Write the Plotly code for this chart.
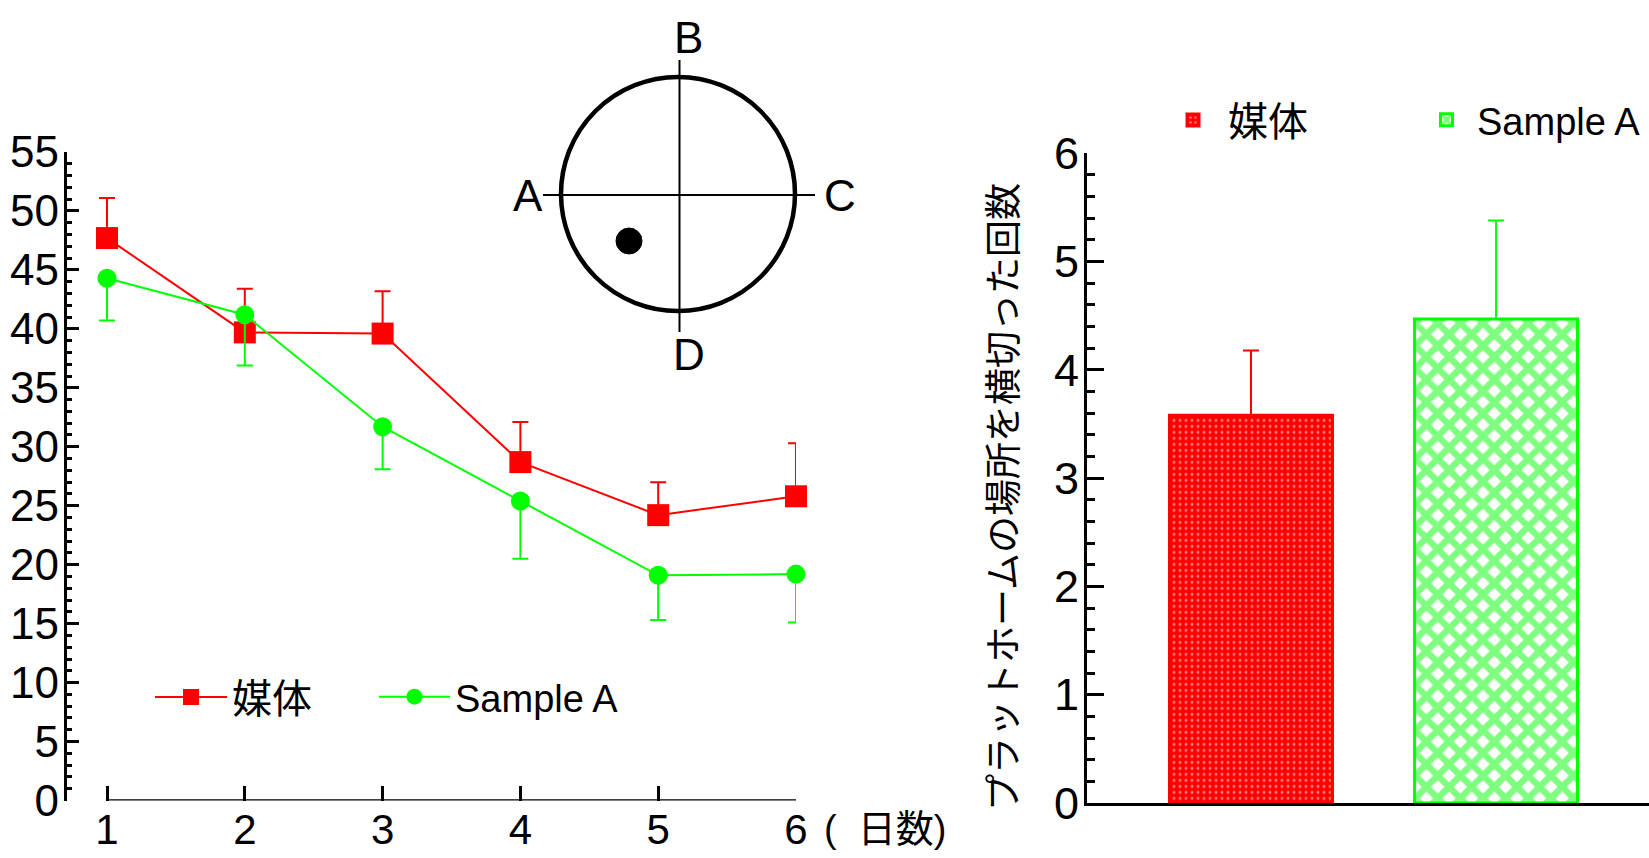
import plotly.graph_objects as go

# ---------------- data ----------------
days = [1, 2, 3, 4, 5, 6]
day_labels = ["1", "2", "3", "4", "5", "6"]
vehicle_mean = [47.7, 39.7, 39.6, 28.7, 24.2, 25.8]
vehicle_sd = [3.4, 3.7, 3.6, 3.4, 2.8, 4.5]
sampleA_mean = [44.3, 41.2, 31.7, 25.4, 19.1, 19.2]
sampleA_sd = [3.6, 4.3, 3.6, 4.9, 3.8, 4.1]

groups = ["媒体", "Sample A"]
crossings_mean = [3.58, 4.47]
crossings_sd = [0.60, 0.91]

left_yticks = list(range(0, 56, 5))
right_yticks = list(range(0, 7))

RED = "#ff0000"
GREEN = "#00ff00"
LAT = "Liberation Sans, Arial, sans-serif"
MIX = "Liberation Sans, Noto Sans CJK JP, sans-serif"
CJK = "Noto Sans CJK JP, Liberation Sans, sans-serif"

W, H = 1649, 858


def px(x):
    return x / W


def py(y):
    return 1 - y / H


fig = go.Figure()

# ---------------- left: line chart ----------------
fig.add_trace(go.Scatter(
    x=days, y=vehicle_mean, name=groups[0], mode="lines+markers",
    line=dict(color=RED, width=2),
    marker=dict(symbol="square", size=22, color=RED),
    error_y=dict(type="data", symmetric=False, array=vehicle_sd,
                 arrayminus=[0] * len(days), color=RED, thickness=2, width=8),
    cliponaxis=False, xaxis="x", yaxis="y", legend="legend",
))
fig.add_trace(go.Scatter(
    x=days, y=sampleA_mean, name=groups[1], mode="lines+markers",
    line=dict(color=GREEN, width=2),
    marker=dict(symbol="circle", size=19, color=GREEN),
    error_y=dict(type="data", symmetric=False, array=[0] * len(days),
                 arrayminus=sampleA_sd, color=GREEN, thickness=2, width=8),
    cliponaxis=False, xaxis="x", yaxis="y", legend="legend2",
))

# ---------------- right: bar chart ----------------
fig.add_trace(go.Bar(
    x=[groups[0]], y=[crossings_mean[0]], name=groups[0], width=0.665,
    marker=dict(color=RED, line=dict(color=RED, width=3),
                pattern=dict(shape=".", fgcolor="white", bgcolor=RED,
                             size=6, solidity=0.2)),
    error_y=dict(type="data", symmetric=False, array=[crossings_sd[0]],
                 arrayminus=[0], color=RED, thickness=2, width=8),
    xaxis="x2", yaxis="y2", legend="legend3",
))
fig.add_trace(go.Bar(
    x=[groups[1]], y=[crossings_mean[1]], name=groups[1], width=0.665,
    marker=dict(color=GREEN, line=dict(color=GREEN, width=3),
                pattern=dict(shape="x", fgcolor=GREEN, bgcolor="white",
                             size=16, solidity=0.65)),
    error_y=dict(type="data", symmetric=False, array=[crossings_sd[1]],
                 arrayminus=[0], color=GREEN, thickness=2, width=8),
    xaxis="x2", yaxis="y2", legend="legend4",
))

# ---------------- shapes: left x-axis line, inset diagram ----------------
shapes = [
    dict(type="line", xref="x", yref="y", x0=days[0], x1=days[-1], y0=0, y1=0,
         line=dict(color="black", width=2.5), layer="above"),
    # inset circle diagram
    dict(type="circle", xref="paper", yref="paper",
         x0=px(678 - 117), x1=px(678 + 117), y0=py(194 + 117), y1=py(194 - 117),
         line=dict(color="black", width=4.5)),
    dict(type="line", xref="paper", yref="paper",
         x0=px(543), x1=px(815), y0=py(195), y1=py(195),
         line=dict(color="black", width=2)),
    dict(type="line", xref="paper", yref="paper",
         x0=px(679.5), x1=px(679.5), y0=py(60), y1=py(332),
         line=dict(color="black", width=2)),
    dict(type="circle", xref="paper", yref="paper",
         x0=px(629 - 13), x1=px(629 + 13), y0=py(241 + 13), y1=py(241 - 13),
         fillcolor="black", line=dict(color="black", width=1)),
]


def letter(t, x, y):
    return dict(text=t, x=px(x), y=py(y), xref="paper", yref="paper",
                xanchor="center", yanchor="middle", showarrow=False,
                font=dict(family=LAT, size=44, color="black"))


annotations = [
    letter("A", 527.5, 195),
    letter("B", 688, 38),
    letter("C", 840, 195),
    letter("D", 689, 354),
    dict(text="(  日数)", x=days[-1], xref="x", xshift=26, y=py(829), yref="paper",
         xanchor="left", yanchor="middle", showarrow=False,
         font=dict(family=MIX, size=38, color="black")),
    dict(text="プラットホームの場所を横切った回数", textangle=-90,
         x=px(1001), y=py(497), xref="paper", yref="paper",
         xanchor="center", yanchor="middle", showarrow=False,
         font=dict(family=CJK, size=37, color="black")),
]


def leg(x, y, itemwidth, size):
    return dict(x=px(x), y=py(y), xanchor="left", yanchor="middle",
                orientation="h", bgcolor="rgba(0,0,0,0)", borderwidth=0,
                itemwidth=itemwidth, itemsizing="trace",
                font=dict(family=MIX, size=size, color="black"))


fig.update_layout(
    width=W, height=H,
    margin=dict(l=0, r=0, t=0, b=0, pad=0, autoexpand=False),
    paper_bgcolor="white", plot_bgcolor="white",
    showlegend=True, barmode="overlay",
    font=dict(family=LAT, color="black"),
    xaxis=dict(domain=[px(66.5), px(796)], range=[0.706, 6.0], automargin=False,
               tickmode="array", tickvals=days, ticktext=day_labels,
               ticks="inside", ticklen=15, tickwidth=2.5, tickcolor="black",
               showline=False, showgrid=False, zeroline=False,
               ticklabelstandoff=0,
               tickfont=dict(family=LAT, size=42, color="black")),
    yaxis=dict(domain=[py(800.5), py(152)], range=[0, 55], automargin=False,
               tickmode="array", tickvals=left_yticks,
               ticks="inside", ticklen=13, tickwidth=2.5, tickcolor="black",
               minor=dict(ticks="inside", ticklen=6, tickwidth=2.5,
                          dtick=1, tickcolor="black"),
               showline=True, linewidth=2.5, linecolor="black",
               showgrid=False, zeroline=False, ticklabelstandoff=-4,
               tickfont=dict(family=LAT, size=44, color="black")),
    xaxis2=dict(domain=[px(1087), 1.0], range=[-0.669, 1.624], automargin=False,
                anchor="y2", showticklabels=False, ticks="",
                showline=True, linewidth=3, linecolor="black",
                showgrid=False, zeroline=False),
    yaxis2=dict(domain=[py(803), py(153.3)], range=[0, 6], anchor="x2",
                automargin=False,
                tickmode="array", tickvals=right_yticks,
                ticks="inside", ticklen=17, tickwidth=2.5, tickcolor="black",
                minor=dict(ticks="inside", ticklen=8, tickwidth=2.5,
                           dtick=0.2, tickcolor="black"),
                showline=True, linewidth=3, linecolor="black",
                showgrid=False, zeroline=False, ticklabelstandoff=-4,
                tickfont=dict(family=LAT, size=45, color="black")),
    legend=leg(150, 697, 72, 40),
    legend2=leg(374, 697, 71, 38),
    legend3=leg(1158, 120, 60, 40),
    legend4=leg(1416, 120, 51, 38),
    shapes=shapes,
    annotations=annotations,
)

fig.write_html("out.html", config={"displayModeBar": False},
               post_script="document.body.style.margin='0';")
